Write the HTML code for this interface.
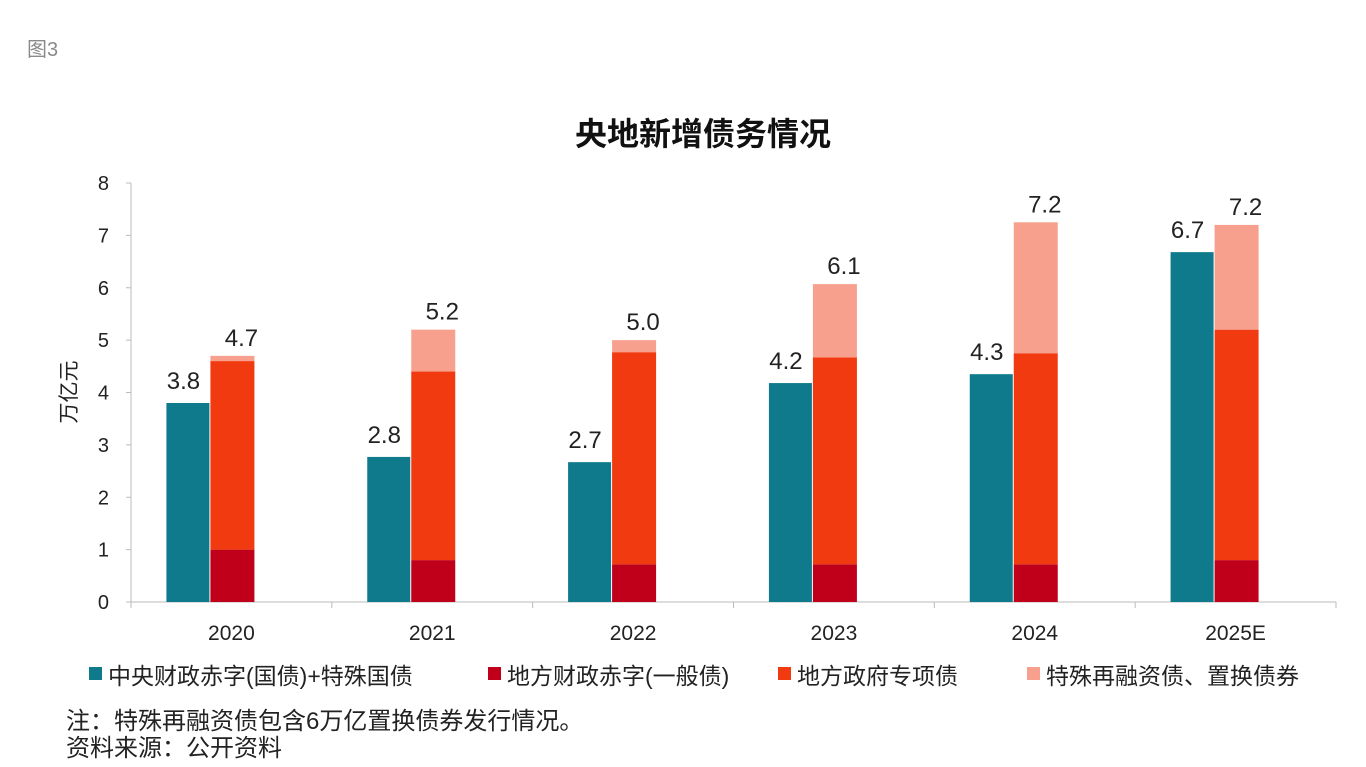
<!DOCTYPE html>
<html><head><meta charset="utf-8"><style>
body{margin:0;background:#fff;width:1366px;height:762px;overflow:hidden;font-family:"Liberation Sans","Noto Sans CJK SC",sans-serif;}
svg text{font-family:"Liberation Sans","Noto Sans CJK SC",sans-serif;}
</style></head><body>
<svg id="chart" width="1366" height="762">
<text x="27" y="56" font-size="20" fill="#8a8a8a">图3</text>
<text x="703" y="145" font-size="32" font-weight="bold" text-anchor="middle" fill="#111">央地新增债务情况</text>
<text transform="translate(76,392) rotate(-90)" font-size="21" text-anchor="middle" fill="#222">万亿元</text>
<g id="axes"></g><g id="bars"></g><g id="labels"></g>
<g font-size="23" fill="#222">
<rect x="89" y="667" width="13" height="13" fill="#0E7A8C"/><text x="108" y="684">中央财政赤字(国债)+特殊国债</text>
<rect x="488" y="667" width="13" height="13" fill="#C0001A"/><text x="507" y="684">地方财政赤字(一般债)</text>
<rect x="778" y="667" width="13" height="13" fill="#F23A10"/><text x="797" y="684">地方政府专项债</text>
<rect x="1027" y="667" width="13" height="13" fill="#F7A08E"/><text x="1046" y="684">特殊再融资债、置换债券</text>
</g>
<text x="66" y="729" font-size="24" fill="#222">注：特殊再融资债包含6万亿置换债券发行情况。</text>
<text x="66" y="756" font-size="24" fill="#222">资料来源：公开资料</text>
</svg>
<script>
const categories=["2020","2021","2022","2023","2024","2025E"];
const centralVals=[3.8,2.77,2.67,4.18,4.35,6.68];
const localGeneral=[1.0,0.8,0.72,0.72,0.72,0.8];
const localSpecial=[3.6,3.6,4.05,3.95,4.03,4.4];
const refinance=[0.1,0.8,0.23,1.4,2.5,2.0];
const centralLabels=["3.8","2.8","2.7","4.2","4.3","6.7"];
const totalLabels=["4.7","5.2","5.0","6.1","7.2","7.2"];
const yTicks=[0,1,2,3,4,5,6,7,8];
const NS="http://www.w3.org/2000/svg";
const x0=131,x1=1336,y0=602,yTop=183,yMax=8;
const cw=(x1-x0)/categories.length;
const y=v=>y0-(v/yMax)*(y0-yTop);
const cx=i=>x0+cw*(i+0.5);
function mk(t,a,p){const e=document.createElementNS(NS,t);for(const k in a)e.setAttribute(k,a[k]);document.getElementById(p).appendChild(e);return e;}
let e=mk("line",{x1:x0,x2:x0,y1:yTop,y2:y0,stroke:"#bbb"},"axes");


e=mk("line",{x1:x0,x2:x1,y1:y0,y2:y0,stroke:"#bbb"},"axes");


yTicks.forEach(t=>{
 mk("line",{x1:x0-5,x2:x0,y1:y(t),y2:y(t),stroke:"#bbb"},"axes");
 const tx=mk("text",{x:x0-22,y:y(t)+7,"font-size":20,"text-anchor":"end",fill:"#222"},"axes");
 tx.textContent=t;
 
 
});
for(let i=0;i<=categories.length;i++)mk("line",{x1:x0+cw*i,x2:x0+cw*i,y1:y0,y2:y0+6,stroke:"#bbb"},"axes");
categories.forEach((c,i)=>{
 const tx=mk("text",{x:cx(i),y:y0+38,"font-size":21,"text-anchor":"middle",fill:"#222"},"axes");
 tx.textContent=c;
 
 
 const c0=cx(i);
 let r=mk("rect",{x:c0-65,width:43,y:y(centralVals[i]),height:y0-y(centralVals[i]),fill:"#0E7A8C"},"bars");
 
 
 let base=0;
 [[localGeneral,"#C0001A","local-general"],[localSpecial,"#F23A10","local-special"],[refinance,"#F7A08E","refinance"]].forEach(s=>{
  const v=s[0][i];
  r=mk("rect",{x:c0-21,width:44,y:y(base+v),height:y(base)-y(base+v),fill:s[1]},"bars");
  
  
  base+=v;
 });
 let l=mk("text",{x:c0-48,y:y(centralVals[i])-14,"font-size":24,"text-anchor":"middle",fill:"#222"},"labels");
 l.textContent=centralLabels[i];
 
 
 l=mk("text",{x:c0+10,y:y(base)-10,"font-size":24,"text-anchor":"middle",fill:"#222"},"labels");
 l.textContent=totalLabels[i];
 
 
});
</script>
</body></html>
